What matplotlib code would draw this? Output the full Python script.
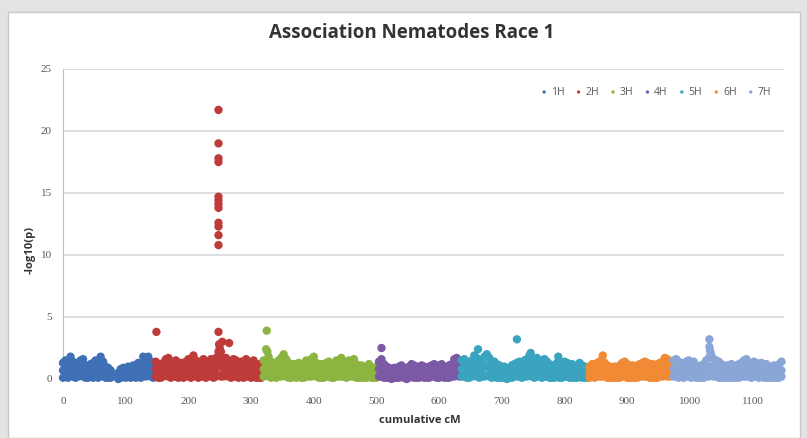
import matplotlib
matplotlib.use("Agg")
import matplotlib.pyplot as plt
from matplotlib.patches import Rectangle

# chromosome groups, colours (Excel-like palette)
chroms = ["1H", "2H", "3H", "4H", "5H", "6H", "7H"]
colors = ["#3F6FB5", "#BE3B3A", "#8CB440", "#7B59A4", "#3AA3C0", "#F08A35", "#8AA6D6"]

# positions (cumulative cM) and -log10(p)
# for every chromosome: top of the band, a middle point and a low point
cm_1H = [0, 4, 8, 12, 16, 20, 24, 28, 32, 36, 40, 44, 48, 52, 56, 60, 64, 68, 72, 76,
         88, 92, 96, 100, 104, 108, 112, 116, 120, 124, 128, 132, 136, 140, 144]
top_1H = [1.3, 1.5, 1.1, 1.8, 1.4, 1.2, 1.3, 1.5, 1.6, 1.1, 0.9, 1.2, 1.3, 1.5, 1.2, 1.8, 1.4, 1.0, 0.9, 0.7,
          0.5, 0.8, 0.9, 0.7, 1.0, 0.9, 1.1, 0.8, 1.3, 1.2, 1.8, 1.6, 1.8, 1.4, 1.2]
mid_1H = [0.7, 0.8, 0.6, 1.0, 0.8, 0.6, 0.7, 0.9, 0.8, 0.6, 0.5, 0.7, 0.6, 0.8, 0.7, 1.0, 0.7, 0.5, 0.5, 0.4,
          0.3, 0.4, 0.5, 0.4, 0.6, 0.5, 0.6, 0.4, 0.7, 0.6, 1.0, 0.9, 1.0, 0.8, 0.7]
low_1H = [0.1, 0.2, 0.1, 0.3, 0.2, 0.1, 0.2, 0.3, 0.2, 0.1, 0.1, 0.2, 0.1, 0.2, 0.1, 0.3, 0.2, 0.1, 0.1, 0.1,
          0.0, 0.1, 0.2, 0.1, 0.2, 0.1, 0.2, 0.1, 0.2, 0.1, 0.3, 0.2, 0.3, 0.2, 0.1]

cm_2H = [148, 152, 156, 160, 164, 168, 172, 176, 180, 184, 188, 192, 196, 200, 204, 208, 212, 216, 220, 224,
         228, 232, 236, 240, 244, 248, 252, 256, 260, 264, 268, 272, 276, 280, 284, 288, 292, 296, 300, 304,
         308, 312, 316]
top_2H = [1.4, 1.2, 1.0, 1.3, 1.6, 1.7, 1.2, 1.4, 1.5, 1.1, 1.3, 1.2, 1.4, 1.6, 1.3, 1.9, 1.5, 1.2, 1.4, 1.6,
          1.2, 1.3, 1.6, 1.2, 1.7, 2.2, 1.8, 1.5, 1.7, 1.4, 1.3, 1.6, 1.5, 1.2, 1.4, 1.3, 1.6, 1.4, 1.2, 1.5,
          1.1, 1.2, 1.0]
mid_2H = [0.8, 0.6, 0.5, 0.7, 0.9, 0.9, 0.6, 0.8, 0.8, 0.6, 0.7, 0.6, 0.8, 0.9, 0.7, 1.1, 0.8, 0.6, 0.8, 0.9,
          0.6, 0.7, 0.9, 0.6, 0.9, 1.2, 1.0, 0.8, 0.9, 0.8, 0.7, 0.9, 0.8, 0.6, 0.8, 0.7, 0.9, 0.8, 0.6, 0.8,
          0.6, 0.6, 0.5]
low_2H = [0.2, 0.1, 0.1, 0.2, 0.3, 0.2, 0.1, 0.2, 0.2, 0.1, 0.2, 0.1, 0.2, 0.3, 0.1, 0.3, 0.2, 0.1, 0.2, 0.2,
          0.1, 0.2, 0.3, 0.1, 0.2, 0.3, 0.2, 0.2, 0.3, 0.2, 0.1, 0.2, 0.2, 0.1, 0.2, 0.1, 0.2, 0.2, 0.1, 0.2,
          0.1, 0.1, 0.1]

cm_3H = [320, 324, 328, 332, 336, 340, 344, 348, 352, 356, 360, 364, 368, 372, 376, 380, 384, 388, 392, 396,
         400, 404, 408, 412, 416, 420, 424, 428, 432, 436, 440, 444, 448, 452, 456, 460, 464, 468, 472, 476,
         480, 484, 488, 492, 496, 500]
top_3H = [1.5, 2.4, 1.8, 1.4, 1.3, 1.2, 1.5, 1.7, 2.0, 1.6, 1.3, 1.1, 1.2, 1.0, 1.3, 1.1, 1.2, 1.5, 1.4, 1.6,
          1.8, 1.3, 1.1, 1.2, 1.0, 1.3, 1.4, 1.1, 1.2, 1.5, 1.3, 1.7, 1.4, 1.2, 1.5, 1.3, 1.6, 1.2, 1.0, 1.1,
          0.9, 1.0, 1.2, 0.9, 0.8, 1.0]
mid_3H = [0.8, 1.3, 1.0, 0.7, 0.7, 0.6, 0.8, 0.9, 1.1, 0.9, 0.7, 0.6, 0.6, 0.5, 0.7, 0.6, 0.6, 0.8, 0.7, 0.9,
          1.0, 0.7, 0.6, 0.6, 0.5, 0.7, 0.8, 0.6, 0.6, 0.8, 0.7, 0.9, 0.8, 0.6, 0.8, 0.7, 0.9, 0.6, 0.5, 0.6,
          0.5, 0.5, 0.6, 0.5, 0.4, 0.5]
low_3H = [0.2, 0.3, 0.2, 0.1, 0.2, 0.1, 0.2, 0.2, 0.3, 0.2, 0.1, 0.1, 0.2, 0.1, 0.2, 0.1, 0.1, 0.2, 0.2, 0.2,
          0.3, 0.2, 0.1, 0.1, 0.1, 0.2, 0.2, 0.1, 0.1, 0.2, 0.2, 0.2, 0.2, 0.1, 0.2, 0.2, 0.2, 0.1, 0.1, 0.1,
          0.1, 0.1, 0.2, 0.1, 0.1, 0.1]

cm_4H = [504, 508, 512, 516, 520, 524, 528, 532, 536, 540, 544, 548, 552, 556, 560, 564, 568, 572, 576, 580,
         584, 588, 592, 596, 600, 604, 608, 612, 616, 620, 624, 628, 632]
top_4H = [1.4, 1.6, 1.2, 1.0, 0.9, 0.8, 0.9, 0.8, 1.0, 1.1, 0.9, 0.8, 1.0, 1.2, 1.1, 0.9, 1.0, 1.1, 1.0, 0.9,
          1.0, 1.1, 1.2, 1.0, 1.1, 1.2, 1.0, 0.9, 1.1, 1.2, 1.6, 1.7, 1.3]
mid_4H = [0.8, 0.9, 0.7, 0.5, 0.5, 0.4, 0.5, 0.4, 0.5, 0.6, 0.5, 0.4, 0.5, 0.6, 0.6, 0.5, 0.5, 0.6, 0.5, 0.5,
          0.5, 0.6, 0.6, 0.5, 0.6, 0.6, 0.5, 0.5, 0.6, 0.6, 0.9, 0.9, 0.7]
low_4H = [0.2, 0.2, 0.1, 0.1, 0.1, 0.0, 0.1, 0.1, 0.1, 0.2, 0.1, 0.0, 0.1, 0.2, 0.1, 0.1, 0.1, 0.2, 0.1, 0.1,
          0.1, 0.2, 0.2, 0.1, 0.1, 0.2, 0.1, 0.1, 0.1, 0.2, 0.2, 0.3, 0.2]

cm_5H = [636, 640, 644, 648, 652, 656, 660, 664, 668, 672, 676, 680, 684, 688, 692, 696, 700, 704, 708, 712,
         716, 720, 724, 728, 732, 736, 740, 744, 748, 752, 756, 760, 764, 768, 772, 776, 780, 784, 788, 792,
         796, 800, 804, 808, 812, 816, 820, 824, 828, 832, 836]
top_5H = [1.5, 1.6, 1.3, 1.2, 1.5, 1.9, 1.7, 1.4, 1.5, 1.8, 2.0, 1.7, 1.3, 1.4, 1.2, 1.1, 0.9, 1.0, 0.8, 0.9,
          1.1, 1.2, 1.3, 1.4, 1.2, 1.5, 1.6, 1.9, 1.6, 1.4, 1.7, 1.5, 1.3, 1.6, 1.4, 1.2, 1.0, 1.1, 1.3, 1.2,
          1.1, 1.4, 1.3, 1.1, 1.2, 1.0, 1.1, 1.3, 1.1, 1.0, 0.9]
mid_5H = [0.8, 0.9, 0.7, 0.6, 0.8, 1.0, 0.9, 0.7, 0.8, 1.0, 1.1, 0.9, 0.7, 0.7, 0.6, 0.6, 0.5, 0.5, 0.4, 0.5,
          0.6, 0.6, 0.7, 0.7, 0.6, 0.8, 0.9, 1.0, 0.9, 0.7, 0.9, 0.8, 0.7, 0.9, 0.7, 0.6, 0.5, 0.6, 0.7, 0.6,
          0.6, 0.7, 0.7, 0.6, 0.6, 0.5, 0.6, 0.7, 0.6, 0.5, 0.5]
low_5H = [0.2, 0.2, 0.1, 0.1, 0.2, 0.3, 0.2, 0.1, 0.2, 0.2, 0.3, 0.2, 0.1, 0.2, 0.1, 0.1, 0.1, 0.1, 0.0, 0.1,
          0.1, 0.2, 0.2, 0.2, 0.1, 0.2, 0.2, 0.3, 0.2, 0.1, 0.2, 0.2, 0.1, 0.2, 0.2, 0.1, 0.1, 0.1, 0.2, 0.1,
          0.1, 0.2, 0.2, 0.1, 0.1, 0.1, 0.1, 0.2, 0.1, 0.1, 0.1]

cm_6H = [840, 844, 848, 852, 856, 860, 864, 868, 872, 876, 880, 884, 888, 892, 896, 900, 904, 908, 912, 916,
         920, 924, 928, 932, 936, 940, 944, 948, 952, 956, 960, 964, 968]
top_6H = [1.0, 1.2, 1.1, 1.3, 1.4, 1.6, 1.3, 1.1, 1.0, 0.9, 1.0, 0.9, 1.1, 1.3, 1.4, 1.2, 1.0, 1.1, 1.0, 1.1,
          1.2, 1.3, 1.4, 1.3, 1.1, 1.2, 1.1, 1.2, 1.3, 1.4, 1.7, 1.6, 1.3]
mid_6H = [0.5, 0.6, 0.6, 0.7, 0.7, 0.8, 0.7, 0.6, 0.5, 0.5, 0.5, 0.5, 0.6, 0.7, 0.7, 0.6, 0.5, 0.6, 0.5, 0.6,
          0.6, 0.7, 0.7, 0.7, 0.6, 0.6, 0.6, 0.6, 0.7, 0.7, 0.9, 0.8, 0.7]
low_6H = [0.1, 0.2, 0.1, 0.2, 0.2, 0.2, 0.2, 0.1, 0.1, 0.1, 0.1, 0.1, 0.1, 0.2, 0.2, 0.1, 0.1, 0.1, 0.1, 0.1,
          0.2, 0.2, 0.2, 0.2, 0.1, 0.1, 0.1, 0.1, 0.2, 0.2, 0.3, 0.2, 0.2]

cm_7H = [974, 978, 982, 986, 990, 994, 998, 1002, 1006, 1010, 1014, 1018, 1022, 1026, 1030, 1034, 1038, 1042,
         1046, 1050, 1054, 1058, 1062, 1066, 1070, 1074, 1078, 1082, 1086, 1090, 1094, 1098, 1102, 1106, 1110,
         1114, 1118, 1122, 1126, 1130, 1134, 1138, 1142, 1146]
top_7H = [1.5, 1.6, 1.4, 1.3, 1.2, 1.4, 1.5, 1.3, 1.4, 1.1, 1.0, 1.1, 1.2, 1.5, 1.7, 1.9, 1.6, 1.5, 1.4, 1.2,
          1.0, 1.1, 1.0, 1.2, 1.1, 1.0, 1.2, 1.3, 1.5, 1.6, 1.3, 1.2, 1.4, 1.3, 1.2, 1.3, 1.1, 1.2, 1.0, 0.9,
          1.1, 1.0, 1.2, 1.4]
mid_7H = [0.8, 0.9, 0.7, 0.7, 0.6, 0.7, 0.8, 0.7, 0.7, 0.6, 0.5, 0.6, 0.6, 0.8, 0.9, 1.0, 0.9, 0.8, 0.7, 0.6,
          0.5, 0.6, 0.5, 0.6, 0.6, 0.5, 0.6, 0.7, 0.8, 0.9, 0.7, 0.6, 0.7, 0.7, 0.6, 0.7, 0.6, 0.6, 0.5, 0.5,
          0.6, 0.5, 0.6, 0.7]
low_7H = [0.2, 0.2, 0.1, 0.2, 0.1, 0.2, 0.2, 0.1, 0.2, 0.1, 0.1, 0.1, 0.1, 0.2, 0.2, 0.3, 0.2, 0.2, 0.1, 0.1,
          0.1, 0.1, 0.1, 0.1, 0.1, 0.1, 0.1, 0.2, 0.2, 0.2, 0.2, 0.1, 0.2, 0.2, 0.1, 0.2, 0.1, 0.1, 0.1, 0.1,
          0.1, 0.1, 0.1, 0.2]

# single markers standing out above the band
peak_cm = {
    "1H": [],
    "2H": [149, 248, 248, 248, 248, 248, 248, 248, 248, 248, 248, 248, 248, 248, 249, 250, 252, 254, 265],
    "3H": [325, 326],
    "4H": [508],
    "5H": [662, 724, 746, 790],
    "6H": [861],
    "7H": [1031, 1031, 1032, 1033],
}
peak_p = {
    "1H": [],
    "2H": [3.8, 21.7, 19.0, 17.8, 17.5, 14.7, 14.4, 14.1, 13.8, 12.6, 12.3, 11.6, 10.8, 3.8, 2.8, 2.5, 2.2, 3.0, 2.9],
    "3H": [3.9, 2.2],
    "4H": [2.5],
    "5H": [2.4, 3.2, 2.1, 1.8],
    "6H": [1.9],
    "7H": [3.2, 2.6, 2.3, 2.1],
}

cms = [cm_1H, cm_2H, cm_3H, cm_4H, cm_5H, cm_6H, cm_7H]
tops = [top_1H, top_2H, top_3H, top_4H, top_5H, top_6H, top_7H]
mids = [mid_1H, mid_2H, mid_3H, mid_4H, mid_5H, mid_6H, mid_7H]
lows = [low_1H, low_2H, low_3H, low_4H, low_5H, low_6H, low_7H]

fig = plt.figure(figsize=(8.07, 4.38), dpi=100, facecolor="#e3e3e3")
fig.patches.append(Rectangle((8 / 807, 0), 792 / 807, 426 / 438, transform=fig.transFigure,
                             facecolor="white", edgecolor="#c8c8c8", linewidth=1.0, zorder=-10))

ax = fig.add_axes([63 / 807, 1 - 379 / 438, 721 / 807, 310 / 438])
ax.set_facecolor("none")
ax.set_zorder(5)

for name, col, x, t, m, lo in zip(chroms, colors, cms, tops, mids, lows):
    xs = x + x + x + peak_cm[name]
    ys = lo + m + t + peak_p[name]
    ax.scatter(xs, ys, s=36, color=col, edgecolors="none", clip_on=False, zorder=3, label=name)

ax.set_xlim(0, 1150)
ax.set_ylim(0, 25)
ax.set_yticks([0, 5, 10, 15, 20, 25])
ax.set_xticks(range(0, 1101, 100))
ax.grid(axis="y", color="#d9d9d9", linewidth=1.2)
ax.set_axisbelow(True)
for side in ["top", "right", "bottom"]:
    ax.spines[side].set_visible(False)
ax.spines["left"].set_color("#bfbfbf")
ax.tick_params(length=0, labelsize=8, labelcolor="#595959")
ax.tick_params(axis="x", pad=13)
ax.tick_params(axis="y", pad=8)
for lab in ax.get_xticklabels() + ax.get_yticklabels():
    lab.set_family("Liberation Serif")

fig.text(0.51, 0.925, "Association Nematodes Race 1", ha="center", va="center",
         fontsize=13.5, fontweight="bold", color="#333333", family="Open Sans")
fig.text(0.52, 0.041, "cumulative cM", ha="center", va="center",
         fontsize=8, fontweight="bold", color="#333333", family="Open Sans")
fig.text(0.037, 0.43, "-log10(p)", ha="center", va="center", rotation=90,
         fontsize=8, fontweight="bold", color="#333333", family="Open Sans")

leg = ax.legend(loc="center right", bbox_to_anchor=(0.995, 0.925), ncol=7, frameon=False,
                markerscale=0.4, handlelength=0.7, handletextpad=0.3, columnspacing=1.0,
                prop={"family": "Open Sans", "size": 7.5})
for txt in leg.get_texts():
    txt.set_color("#595959")

fig.savefig("out.png", dpi=100, facecolor=fig.get_facecolor())
